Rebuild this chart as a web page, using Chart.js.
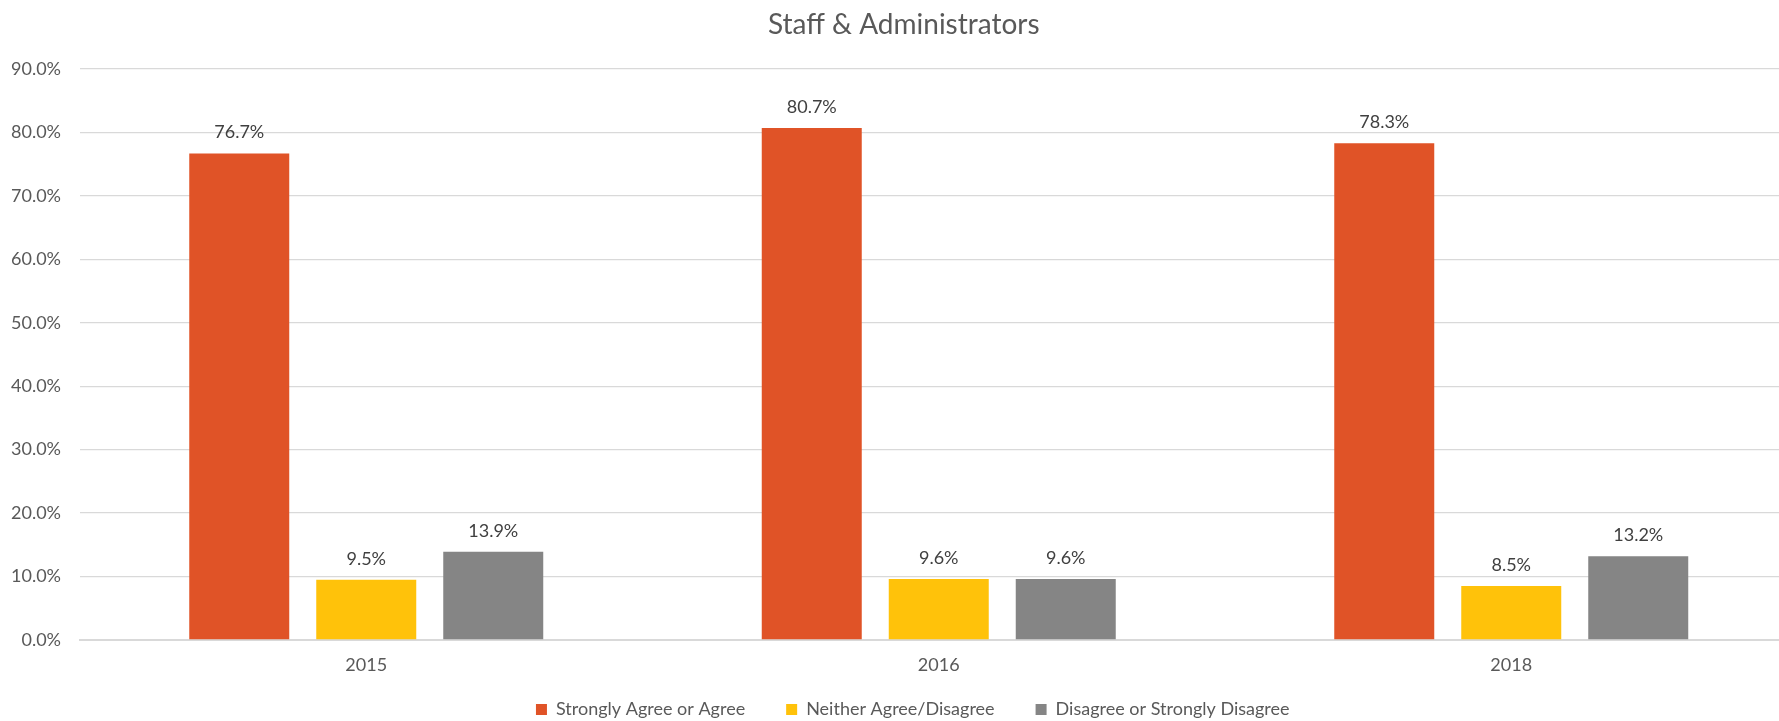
<!DOCTYPE html>
<html>
<head>
<meta charset="utf-8">
<title>Staff &amp; Administrators</title>
<script src="https://cdn.jsdelivr.net/npm/chart.js@4/dist/chart.umd.min.js"></script>
<style>
  html, body { margin: 0; padding: 0; overflow: hidden; background: #ffffff; }
  #wrap { width: 1820px; height: 721px; }
</style>
</head>
<body>
<div id="wrap"><canvas id="chart" width="1820" height="721"></canvas></div>
<script>
// Survey years
const categories = ['2015', '2016', '2018'];

// Share of responses, in percent
const stronglyAgreeOrAgree = [76.7, 80.7, 78.3];
const neitherAgreeDisagree = [9.5, 9.6, 8.5];
const disagreeOrStronglyDisagree = [13.9, 9.6, 13.2];

const seriesNames = ['Strongly Agree or Agree', 'Neither Agree/Disagree', 'Disagree or Strongly Disagree'];
const seriesColors = ['#E05327', '#FFC20A', '#858585'];

// Value axis: 0% to 90% in steps of 10%
const yTickLabels = ['0.0%', '10.0%', '20.0%', '30.0%', '40.0%', '50.0%', '60.0%', '70.0%', '80.0%', '90.0%'];
const yAxisMax = 90;
const yAxisStep = 10;

const pct = v => v.toFixed(1) + '%';

// Writes each bar's value just above it
const barValueLabels = {
  id: 'barValueLabels',
  afterDatasetsDraw(chart) {
    const ctx = chart.ctx;
    ctx.save();
    ctx.font = '18px Lato';
    ctx.fillStyle = '#404040';
    ctx.textAlign = 'center';
    ctx.textBaseline = 'middle';
    chart.data.datasets.forEach((ds, i) => {
      const meta = chart.getDatasetMeta(i);
      meta.data.forEach((bar, j) => {
        ctx.fillText(pct(ds.data[j]), bar.x, bar.y - 21);
      });
    });
    ctx.restore();
  }
};

// Starts the legend row a little higher and nudges it right
const legendPlacement = {
  id: 'legendPlacement',
  afterLayout(chart) {
    const lg = chart.legend;
    if (!lg) return;
    lg.top -= 16;
    lg.left += 9;
    lg.right += 9;
  }
};

Chart.defaults.font.family = 'Lato';
Chart.defaults.color = '#595959';

new Chart(document.getElementById('chart'), {
  type: 'bar',
  data: {
    labels: categories,
    datasets: [
      { label: seriesNames[0], data: stronglyAgreeOrAgree, backgroundColor: seriesColors[0] },
      { label: seriesNames[1], data: neitherAgreeDisagree, backgroundColor: seriesColors[1] },
      { label: seriesNames[2], data: disagreeOrStronglyDisagree, backgroundColor: seriesColors[2] }
    ]
  },
  options: {
    responsive: false,
    animation: false,
    devicePixelRatio: 1,
    categoryPercentage: 0.6655,
    barPercentage: 0.7874,
    layout: { padding: { left: 10, right: 22.5, top: 0, bottom: 0 } },
    scales: {
      x: {
        grid: { display: false, drawTicks: false },
        border: { display: true, color: '#D9D9D9', width: 2 },
        ticks: { padding: 14, color: '#595959', font: { size: 18 } },
        afterFit(scale) { scale.height = 35.6; }
      },
      y: {
        min: 0,
        max: yAxisMax,
        grid: { color: '#D9D9D9', lineWidth: 1.3, drawTicks: false },
        border: { display: false },
        ticks: {
          stepSize: yAxisStep,
          padding: 19,
          color: '#595959',
          font: { size: 18 },
          callback: (v, i) => yTickLabels[i]
        },
        afterFit(scale) { scale.width = 70; }
      }
    },
    plugins: {
      title: {
        display: true,
        text: 'Staff & Administrators',
        color: '#595959',
        font: { size: 28, weight: 'normal' },
        padding: { top: 8, bottom: 27.4 }
      },
      legend: {
        position: 'bottom',
        maxHeight: 45.4,
        labels: {
          boxWidth: 11,
          boxHeight: 11,
          padding: 41,
          color: '#595959',
          font: { size: 18 }
        }
      },
      tooltip: { enabled: false }
    }
  },
  plugins: [barValueLabels, legendPlacement]
});
</script>
</body>
</html>
